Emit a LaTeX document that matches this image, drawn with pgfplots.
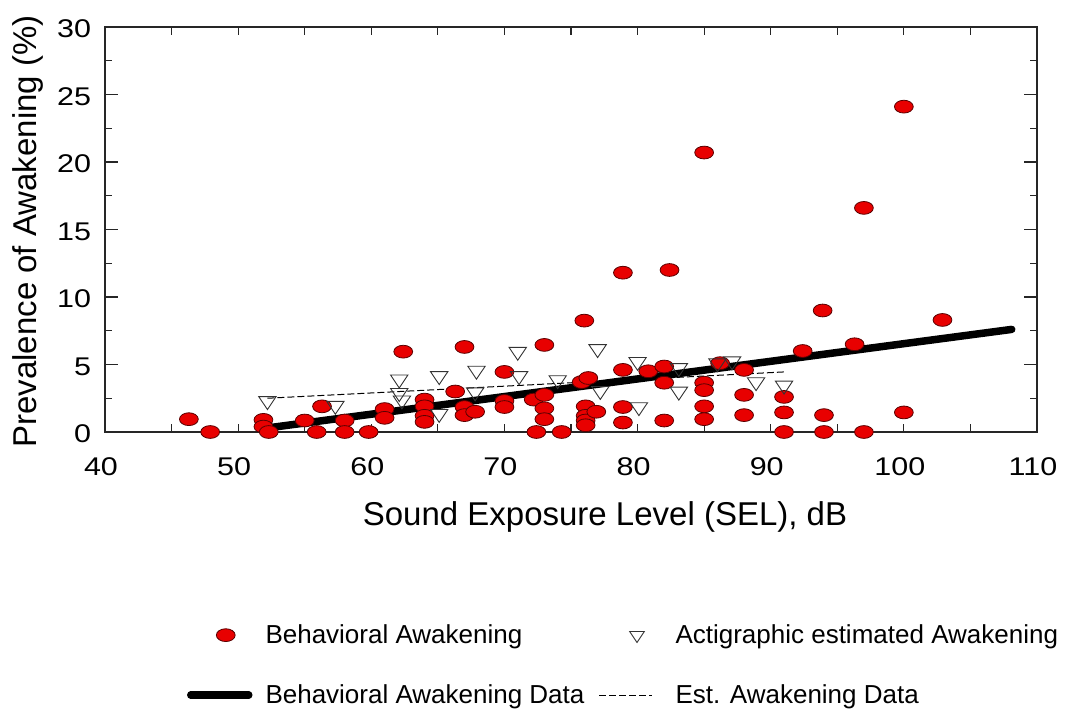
\documentclass[border=0pt]{standalone}
\usepackage{fontspec}
\setmainfont{Liberation Sans}
\newfontfamily\tickfont{Liberation Sans}[FakeStretch=1.19]
\usepackage{pgfplots}
\usepackage{pgfplotstable}
\pgfplotsset{compat=1.18}
\definecolor{mred}{RGB}{232,0,0}
\definecolor{mdred}{RGB}{90,0,0}

\pgfplotsset{
  limgcirc/.style={legend image code/.code={\path (-35bp,-14bp) (36bp,14bp); \draw[##1] plot coordinates {(0bp,0bp)};}},
  limgtri/.style={legend image code/.code={\path (-38bp,-14bp) (38bp,14bp); \draw[##1, mark size=8.5bp] plot coordinates {(0bp,0bp)};}},
  limgthick/.style={legend image code/.code={\path (-35bp,-14bp) (36bp,14bp); \draw[##1] (-35bp,0bp) -- (23bp,0bp);}},
  limgdash/.style={legend image code/.code={\path (-38bp,-14bp) (38bp,14bp); \draw[##1] (-38bp,0bp) -- (15bp,0bp);}},
}

\pgfplotstableread{
x y
46.3 0.95
47.9 0
51.9 0.9
51.9 0.4
52.3 0
55.0 0.85
55.9 0
56.3 1.9
58.0 0.85
58.0 0
59.8 0
61.0 1.7
61.0 1.05
62.4 5.95
64.0 2.4
64.0 1.9
64.0 1.2
64.0 0.75
66.3 3.0
67.0 6.3
67.0 1.85
67.0 1.25
67.8 1.5
70.0 4.45
70.0 2.3
70.0 1.85
72.2 2.4
73.0 6.45
73.0 2.75
73.0 1.75
73.0 0.95
72.4 0
74.3 0
75.8 3.7
76.3 4.0
76.0 8.25
76.1 1.9
76.1 1.2
76.1 0.85
76.1 0.5
76.9 1.5
78.9 11.8
78.9 4.6
78.9 1.85
78.9 0.7
80.8 4.5
82.0 4.85
82.0 3.65
82.0 0.85
82.4 12.0
85.0 20.7
85.0 3.65
85.0 3.1
85.0 1.9
85.0 0.95
86.2 5.1
88.0 4.6
88.0 2.75
88.0 1.25
91.0 2.6
91.0 1.45
91.0 0
92.4 6.0
93.9 9.0
94.0 1.25
94.0 0
96.3 6.5
97.0 16.6
97.0 0
100.0 24.1
100.0 1.45
102.9 8.3
}\behav

\pgfplotstableread{
x y
52.2 2.3
57.3 1.95
62.1 3.9
62.1 2.9
62.3 2.35
65.1 4.15
65.1 1.35
67.9 4.55
67.8 2.95
71.0 5.95
71.1 4.15
74.0 3.85
77.0 6.15
77.2 3.05
80.0 5.2
80.1 1.85
83.1 4.75
83.1 3.0
86.0 5.1
87.1 5.25
88.9 3.7
91.0 3.45
}\acti

\begin{document}
\begin{tikzpicture}
\path[use as bounding box] (0bp,0bp) rectangle (1065bp,710bp);
\begin{axis}[
  at={(105bp,278bp)}, anchor=south west,
  scale only axis, width=932bp, height=405bp,
  xmin=40, xmax=110, ymin=0, ymax=30,
  xtick={40,50,...,110},
  minor xtick={45,55,...,105},
  ytick={0,5,...,30},
  minor ytick={2.5,7.5,...,27.5},
  tick align=inside,
  axis line style={line width=1.3bp, black!85},
  every major x tick/.append style={/pgfplots/major tick length=8bp, line width=1.2bp, black!85},
  every minor x tick/.append style={/pgfplots/minor tick length=8bp, line width=1.2bp, black!85},
  every major y tick/.append style={/pgfplots/major tick length=13bp, line width=1.2bp, black!85},
  every minor y tick/.append style={/pgfplots/minor tick length=7bp, line width=1.2bp, black!85},
  /pgf/number format/assume math mode=true,
  tick label style={font=\tickfont\fontsize{25.6bp}{30bp}\selectfont},
  xticklabel style={yshift=-22bp, xshift=-4bp},
  yticklabel style={xshift=-10.5bp, yshift=-2bp},
  xlabel={Sound Exposure Level (SEL), dB},
  xlabel style={at={(axis description cs:0.5365,-0.21)}, anchor=center, font=\fontsize{33bp}{40bp}\selectfont},
  ylabel={Prevalence of Awakening (\%)},
  ylabel style={at={(axis description cs:-0.0822,0.495)}, anchor=center, font=\fontsize{33bp}{40bp}\selectfont},
  legend columns=2,
  legend cell align=left,
  legend style={
    at={(axis description cs:0.088,-0.58)}, anchor=west,
    draw=none, fill=none, inner sep=0pt, outer sep=0pt,
    column sep=0pt, row sep=28bp,
    font=\fontsize{26bp}{31bp}\selectfont,
    nodes={inner sep=0pt},
    /tikz/every even column/.append style={column sep=5bp},
  },
]
\addplot[only marks, mark=*, mark size=6.4bp,
  mark options={xscale=1.47, fill=mred, draw=mdred, line width=0.8bp},
  limgcirc]
  table[x=x,y=y] {\behav};
\addlegendentry{\makebox[328bp][l]{Behavioral Awakening}}
\addplot[only marks, mark=triangle, mark size=10bp,
  mark options={rotate=180, yscale=0.86, draw=black!80, line width=0.9bp},
  limgtri]
  table[x=x,y=y] {\acti};
\addlegendentry{Actigraphic estimated Awakening}
\addplot[black, line width=7.5bp, line cap=round, limgthick]
  coordinates {(52.2,0.3) (108.1,7.6)};
\addlegendentry{Behavioral Awakening Data}
\addplot[black, line width=1bp, dash pattern=on 7bp off 3bp, limgdash]
  coordinates {(52.2,2.5) (91.0,4.45)};
\addlegendentry{Est. Awakening Data}
\end{axis}
\end{tikzpicture}
\end{document}
